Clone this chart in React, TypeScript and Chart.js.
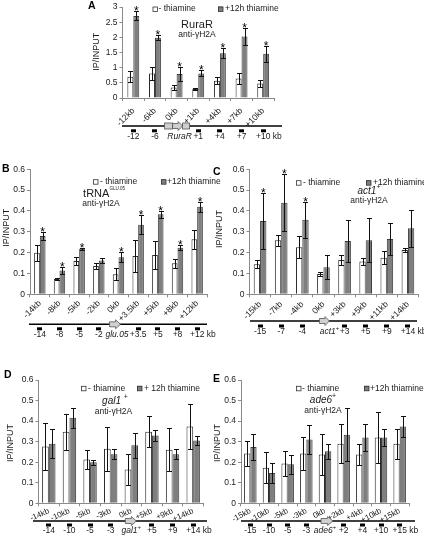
import React, { useEffect, useRef } from "react";
import { Chart, registerables } from "chart.js";
Chart.register(...registerables);

const FF = "'Liberation Sans', Arial, Helvetica, sans-serif";
Chart.defaults.font.family = FF;

// ---------- DATA ----------
// Panel A (RuraR)
const catsA = ["-12kb", "-6kb", "0kb", "+1kb", "+4kb", "+7kb", "+10kb"];
const noThiA = [0.70, 0.81, 0.35, 0.30, 0.57, 0.64, 0.48];
const noThiErrA = [0.18, 0.20, 0.08, 0.02, 0.12, 0.17, 0.13];
const thiA = [2.71, 1.99, 0.79, 0.81, 1.48, 2.03, 1.46];
const thiErrA = [0.15, 0.09, 0.24, 0.10, 0.17, 0.29, 0.27];
const sigA = [1, 1, 1, 1, 1, 1, 1];
const mapA = ["-12", "-6", "RuraR", "+1", "+4", "+7", "+10"];
const yTicksA = [0, 0.5, 1, 1.5, 2, 2.5, 3];

// Panel B (tRNA GLU.05)
const catsB = ["-14kb", "-8kb", "-5kb", "-2kb", "0kb", "+3.5kb", "+5kb", "+8kb", "+12kb"];
const noThiB = [0.200, 0.074, 0.160, 0.136, 0.096, 0.184, 0.189, 0.149, 0.264];
const noThiErrB = [0.038, 0.006, 0.018, 0.015, 0.028, 0.075, 0.066, 0.022, 0.045];
const thiB = [0.280, 0.114, 0.219, 0.162, 0.178, 0.334, 0.384, 0.224, 0.420];
const thiErrB = [0.020, 0.018, 0.005, 0.012, 0.025, 0.045, 0.018, 0.012, 0.025];
const sigB = [1, 1, 1, 0, 1, 1, 1, 1, 1];
const mapB = ["-14", "-8", "-5", "-2", "glu.05", "+3.5", "+5", "+8", "+12"];

// Panel C (act1+)
const catsC = ["-15kb", "-7kb", "-4kb", "0kb", "+3kb", "+5kb", "+11kb", "+14kb"];
const noThiC = [0.144, 0.260, 0.226, 0.098, 0.165, 0.157, 0.176, 0.213];
const noThiErrC = [0.020, 0.026, 0.053, 0.010, 0.023, 0.018, 0.030, 0.008];
const thiC = [0.352, 0.440, 0.358, 0.130, 0.256, 0.260, 0.266, 0.317];
const thiErrC = [0.136, 0.136, 0.087, 0.057, 0.100, 0.104, 0.078, 0.090];
const sigC = [1, 1, 1, 0, 0, 0, 0, 0];
const mapC = ["-15", "-7", "-4", "act1", "+3", "+5", "+9", "+14"];

// Panel D (gal1+)
const catsD = ["-14kb", "-10kb", "-5kb", "-3kb", "0kb", "+5kb", "+9kb", "+14kb"];
const noThiD = [0.277, 0.348, 0.213, 0.265, 0.165, 0.348, 0.261, 0.374];
const noThiErrD = [0.113, 0.087, 0.048, 0.108, 0.076, 0.075, 0.103, 0.108];
const thiD = [0.290, 0.416, 0.200, 0.239, 0.282, 0.330, 0.239, 0.306];
const thiErrD = [0.070, 0.048, 0.012, 0.024, 0.060, 0.028, 0.025, 0.022];
const sigD = [0, 0, 0, 0, 0, 0, 0, 0];
const mapD = ["-14", "-10", "-5", "-3", "gal1", "+5", "+9", "+14"];

// Panel E (ade6+)
const catsE = ["-15kb", "-10kb", "-5kb", "-3kb", "0kb", "+2kb", "+4kb", "+10kb", "+15kb"];
const noThiE = [0.242, 0.173, 0.194, 0.242, 0.237, 0.290, 0.237, 0.320, 0.290];
const noThiErrE = [0.060, 0.076, 0.060, 0.080, 0.100, 0.095, 0.050, 0.124, 0.073];
const thiE = [0.274, 0.148, 0.190, 0.310, 0.253, 0.334, 0.320, 0.320, 0.374];
const thiErrE = [0.065, 0.047, 0.047, 0.070, 0.037, 0.130, 0.066, 0.040, 0.050];
const sigE = [0, 0, 0, 0, 0, 0, 0, 0, 0];
const mapE = ["-15", "-10", "-5", "-3", "ade6", "+2", "+4", "+10", "+15"];

const yTicksSmall = [0, 0.1, 0.2, 0.3, 0.4, 0.5, 0.6];

// ---------- LAYOUT / STYLE ----------
type Part = { t: string; size: number; italic?: boolean; bold?: boolean; dy?: number };
type Cfg = {
  key: string;
  cats: string[]; noThi: number[]; noThiErr: number[]; thi: number[]; thiErr: number[]; sig: number[];
  mapLabels: string[]; geneIdx: number; geneSup: boolean; geneBoxes: boolean;
  yTicks: number[];
  cx: number; cy: number; cw: number; ch: number;
  L: number; R: number; T: number; B: number;
  catPct: number; rot: number; xPad: number; xFont: number;
  letter: string; letterX: number; letterY: number;
  yTitleX: number; yTitleY: number;
  legY: number; box1X: number; text1X: number; box2X: number; text2X: number; text2: string;
  title: Part[]; titleX: number; titleY: number; subX: number; subY: number;
  lineY: number; lineX0: number; lineX1: number; markY: number; mapLabY: number;
  g0: number; g1: number; gLabDx: number;
};

const DARK = "#1a1a1a";
const AXIS = "#8a8a8a";
const GRAY = "#7f7f7f";

const panels: Cfg[] = [
  {
    key: "A", cats: catsA, noThi: noThiA, noThiErr: noThiErrA, thi: thiA, thiErr: thiErrA, sig: sigA,
    mapLabels: mapA, geneIdx: 2, geneSup: false, geneBoxes: true, yTicks: yTicksA,
    cx: 0, cy: 0, cw: 424, ch: 145, L: 122.5, R: 274, T: 6, B: 98,
    catPct: 0.55, rot: 45, xPad: 5, xFont: 8.5,
    letter: "A", letterX: 88, letterY: 8.5, yTitleX: 97, yTitleY: 51.7,
    legY: 9, box1X: 152.5, text1X: 158.5, box2X: 218, text2X: 225, text2: "+12h thiamine",
    title: [{ t: "RuraR", size: 11 }], titleX: 197, titleY: 25, subX: 197, subY: 34.3,
    lineY: 126, lineX0: 122, lineX1: 282, markY: 129.3, mapLabY: 137,
    g0: -12, g1: 13, gLabDx: 3,
  },
  {
    key: "B", cats: catsB, noThi: noThiB, noThiErr: noThiErrB, thi: thiB, thiErr: thiErrB, sig: sigB,
    mapLabels: mapB, geneIdx: 4, geneSup: false, geneBoxes: false, yTicks: yTicksSmall,
    cx: 0, cy: 158, cw: 226, ch: 186, L: 30, R: 207, T: 169.3, B: 294.3,
    catPct: 0.58, rot: 45, xPad: 1, xFont: 8.5,
    letter: "B", letterX: 2, letterY: 172, yTitleX: 6.7, yTitleY: 227.7,
    legY: 181.7, box1X: 93, text1X: 100, box2X: 161, text2X: 167, text2: "+12h thiamine",
    title: [{ t: "tRNA", size: 11 }, { t: "GLU.05", size: 4.5, dy: -5 }], titleX: 104, titleY: 194, subX: 101, subY: 204,
    lineY: 324.3, lineX0: 29, lineX1: 207, markY: 327.3, mapLabY: 334.5,
    g0: -9, g1: 2, gLabDx: -1.5,
  },
  {
    key: "C", cats: catsC, noThi: noThiC, noThiErr: noThiErrC, thi: thiC, thiErr: thiErrC, sig: sigC,
    mapLabels: mapC, geneIdx: 3, geneSup: true, geneBoxes: false, yTicks: yTicksSmall,
    cx: 212, cy: 158, cw: 212, ch: 186, L: 249.5, R: 418.5, T: 169.3, B: 294.3,
    catPct: 0.6, rot: 45, xPad: 2, xFont: 8.5,
    letter: "C", letterX: 213, letterY: 175, yTitleX: 219.5, yTitleY: 229,
    legY: 182.7, box1X: 296, text1X: 303, box2X: 366, text2X: 373, text2: "+12h thiamine",
    title: [{ t: "act1", size: 10, italic: true }, { t: "+", size: 7, dy: -4 }], titleX: 369, titleY: 191, subX: 369, subY: 201,
    lineY: 321, lineX0: 250, lineX1: 417, markY: 324.5, mapLabY: 331.7,
    g0: -4, g1: 6, gLabDx: 6,
  },
  {
    key: "D", cats: catsD, noThi: noThiD, noThiErr: noThiErrD, thi: thiD, thiErr: thiErrD, sig: sigD,
    mapLabels: mapD, geneIdx: 4, geneSup: true, geneBoxes: false, yTicks: yTicksSmall,
    cx: 0, cy: 365, cw: 226, ch: 178, L: 38.5, R: 203.5, T: 380, B: 503.3,
    catPct: 0.65, rot: 24, xPad: 0, xFont: 8,
    letter: "D", letterX: 4, letterY: 378, yTitleX: 10.7, yTitleY: 443,
    legY: 388.3, box1X: 81, text1X: 88, box2X: 137, text2X: 144, text2: "+ 12h thiamine",
    title: [{ t: "gal1 ", size: 10, italic: true }, { t: "+", size: 7, dy: -4 }], titleX: 115, titleY: 401, subX: 113.5, subY: 412,
    lineY: 521, lineX0: 33, lineX1: 207, markY: 523.5, mapLabY: 530.7,
    g0: -6, g1: 5, gLabDx: 0,
  },
  {
    key: "E", cats: catsE, noThi: noThiE, noThiErr: noThiErrE, thi: thiE, thiErr: thiErrE, sig: sigE,
    mapLabels: mapE, geneIdx: 4, geneSup: true, geneBoxes: false, yTicks: yTicksSmall,
    cx: 212, cy: 365, cw: 212, ch: 178, L: 241, R: 409, T: 380, B: 503.3,
    catPct: 0.67, rot: 28, xPad: 0, xFont: 8,
    letter: "E", letterX: 213, letterY: 382, yTitleX: 217.5, yTitleY: 443,
    legY: 388.3, box1X: 296, text1X: 302, box2X: 364, text2X: 370, text2: "+12h thiamine",
    title: [{ t: "ade6", size: 10, italic: true }, { t: "+", size: 7, dy: -4 }], titleX: 323, titleY: 400.5, subX: 323, subY: 411,
    lineY: 521, lineX0: 241, lineX1: 415, markY: 523.5, mapLabY: 530.7,
    g0: -4, g1: 8, gLabDx: 0,
  },
];

const fnt = (p: Part) => `${p.italic ? "italic " : ""}${p.bold ? "bold " : ""}${p.size}px ${FF}`;

function drawRich(ctx: CanvasRenderingContext2D, parts: Part[], x: number, y: number, align: "left" | "center" | "right") {
  const widths = parts.map((p) => { ctx.font = fnt(p); return ctx.measureText(p.t).width; });
  const total = widths.reduce((a, b) => a + b, 0);
  let sx = align === "center" ? x - total / 2 : align === "right" ? x - total : x;
  ctx.textAlign = "left";
  ctx.textBaseline = "middle";
  parts.forEach((p, i) => {
    ctx.font = fnt(p);
    ctx.fillText(p.t, sx, y + (p.dy || 0));
    sx += widths[i];
  });
  return total;
}

function blockArrow(ctx: CanvasRenderingContext2D, x0: number, x1: number, yc: number) {
  const w = x1 - x0;
  const hx = x0 + w * 0.55;
  ctx.beginPath();
  ctx.moveTo(x0, yc - 2.5);
  ctx.lineTo(hx, yc - 2.5);
  ctx.lineTo(hx, yc - 4.5);
  ctx.lineTo(x1, yc);
  ctx.lineTo(hx, yc + 4.5);
  ctx.lineTo(hx, yc + 2.5);
  ctx.lineTo(x0, yc + 2.5);
  ctx.closePath();
  ctx.fillStyle = "#cfcfcf";
  ctx.fill();
  ctx.strokeStyle = "#555";
  ctx.lineWidth = 0.8;
  ctx.stroke();
}

function makePlugin(p: Cfg) {
  return {
    id: "decor" + p.key,
    afterDraw(chart: any) {
      const ctx: CanvasRenderingContext2D = chart.ctx;
      const ys = chart.scales.y;
      const xs = chart.scales.x;
      const ox = p.cx, oy = p.cy;
      ctx.save();
      ctx.fillStyle = DARK;

      // error bars + asterisks
      const sets: [number[], number[]][] = [[p.noThi, p.noThiErr], [p.thi, p.thiErr]];
      sets.forEach(([vals, errs], d) => {
        const meta = chart.getDatasetMeta(d);
        meta.data.forEach((bar: any, i: number) => {
          const x = Math.round(bar.x) + 0.5;
          const t = Math.round(ys.getPixelForValue(vals[i] + errs[i])) + 0.5;
          const b = Math.round(ys.getPixelForValue(Math.max(0, vals[i] - errs[i]))) + 0.5;
          ctx.strokeStyle = "#111";
          ctx.lineWidth = 1;
          ctx.beginPath();
          ctx.moveTo(x, t); ctx.lineTo(x, b);
          ctx.moveTo(x - 2.5, t); ctx.lineTo(x + 2.5, t);
          ctx.moveTo(x - 2.5, b); ctx.lineTo(x + 2.5, b);
          ctx.stroke();
          if (d === 1 && p.sig[i]) {
            ctx.font = `12px ${FF}`;
            ctx.textAlign = "center";
            ctx.textBaseline = "alphabetic";
            ctx.fillStyle = "#000";
            ctx.fillText("*", bar.x, t + 3.5);
          }
        });
      });

      // panel letter
      ctx.fillStyle = "#000";
      ctx.font = `bold 10.5px ${FF}`;
      ctx.textAlign = "left";
      ctx.textBaseline = "alphabetic";
      ctx.fillText(p.letter, p.letterX - ox, p.letterY - oy);

      // y title
      ctx.save();
      ctx.translate(p.yTitleX - ox, p.yTitleY - oy);
      ctx.rotate(-Math.PI / 2);
      ctx.font = `9px ${FF}`;
      ctx.textAlign = "center";
      ctx.textBaseline = "middle";
      ctx.fillStyle = DARK;
      ctx.fillText("IP/INPUT", 0, 0);
      ctx.restore();

      // legend
      const ly = p.legY - oy;
      ctx.lineWidth = 0.8;
      ctx.fillStyle = "#fff";
      ctx.strokeStyle = "#333";
      ctx.fillRect(p.box1X - ox, ly - 2.5, 5, 5);
      ctx.strokeRect(p.box1X - ox + 0.5, ly - 2, 4.5, 4.5);
      ctx.fillStyle = GRAY;
      ctx.fillRect(p.box2X - ox, ly - 2.5, 5, 5);
      ctx.strokeRect(p.box2X - ox + 0.5, ly - 2, 4.5, 4.5);
      ctx.fillStyle = DARK;
      drawRich(ctx, [{ t: "- thiamine", size: 8.5 }], p.text1X - ox, ly, "left");
      drawRich(ctx, [{ t: p.text2, size: 8.5 }], p.text2X - ox, ly, "left");

      // title and antibody
      drawRich(ctx, p.title, p.titleX - ox, p.titleY - oy, "center");
      drawRich(ctx, [{ t: "anti-γH2A", size: 8.5 }], p.subX - ox, p.subY - oy, "center");

      // gene map
      const lyM = p.lineY - oy;
      ctx.strokeStyle = "#000";
      ctx.lineWidth = 1.6;
      ctx.beginPath();
      ctx.moveTo(p.lineX0 - ox, lyM);
      ctx.lineTo(p.lineX1 - ox, lyM);
      ctx.stroke();
      const n = p.mapLabels.length;
      p.mapLabels.forEach((lab, i) => {
        const cxp = xs.getPixelForValue(i);
        if (i === p.geneIdx) {
          if (p.geneBoxes) {
            ctx.fillStyle = "#cfcfcf";
            ctx.strokeStyle = "#555";
            ctx.lineWidth = 0.8;
            ctx.fillRect(cxp + p.g0, lyM - 3, 8, 6);
            ctx.strokeRect(cxp + p.g0, lyM - 3, 8, 6);
            blockArrow(ctx, cxp + p.g0 + 8, cxp + p.g1 - 7, lyM);
            ctx.fillStyle = "#cfcfcf";
            ctx.fillRect(cxp + p.g1 - 7, lyM - 3, 7, 6);
            ctx.strokeRect(cxp + p.g1 - 7, lyM - 3, 7, 6);
          } else {
            blockArrow(ctx, cxp + p.g0, cxp + p.g1, lyM);
          }
          ctx.fillStyle = DARK;
          const parts: Part[] = [{ t: lab, size: 8.5, italic: true }];
          if (p.geneSup) parts.push({ t: "+", size: 6, dy: -3.5 });
          drawRich(ctx, parts, cxp + p.gLabDx, p.mapLabY - oy, "center");
        } else {
          ctx.fillStyle = "#000";
          ctx.fillRect(Math.round(cxp - 2.5), p.markY - oy, 5, 3);
          ctx.fillStyle = DARK;
          drawRich(ctx, [{ t: lab, size: 8.5 }], cxp, p.mapLabY - oy, "center");
          if (i === n - 1) {
            ctx.font = `8.5px ${FF}`;
            const w = ctx.measureText(lab).width;
            drawRich(ctx, [{ t: " kb", size: 8.5 }], cxp + w / 2, p.mapLabY - oy, "left");
          }
        }
      });
      ctx.restore();
    },
  };
}

function Panel({ p }: { p: Cfg }) {
  const ref = useRef<HTMLCanvasElement>(null);
  useEffect(() => {
    const chart = new Chart(ref.current as HTMLCanvasElement, {
      type: "bar",
      data: {
        labels: p.cats,
        datasets: [
          {
            label: "- thiamine", data: p.noThi, backgroundColor: "#ffffff", borderColor: "#2a2a2a",
            borderWidth: 1, categoryPercentage: p.catPct, barPercentage: 1,
          },
          {
            label: "+12h thiamine", data: p.thi, backgroundColor: GRAY, borderColor: "#3c3c3c",
            borderWidth: 1, categoryPercentage: p.catPct, barPercentage: 1,
          },
        ],
      },
      options: {
        animation: false,
        responsive: false,
        devicePixelRatio: 1,
        layout: { padding: { left: 0, top: p.T - p.cy, right: p.cx + p.cw - p.R, bottom: 0 } },
        plugins: { legend: { display: false }, tooltip: { enabled: false }, title: { display: false } },
        scales: {
          x: {
            grid: { offset: true, drawOnChartArea: false, drawTicks: true, tickLength: 3, color: AXIS },
            border: { color: AXIS, width: 1 },
            ticks: {
              minRotation: p.rot, maxRotation: p.rot, autoSkip: false, padding: p.xPad,
              font: { size: p.xFont, family: FF }, color: DARK,
            },
            afterFit: (s: any) => { s.height = p.cy + p.ch - p.B; },
          },
          y: {
            min: 0,
            max: p.yTicks[p.yTicks.length - 1],
            afterBuildTicks: (s: any) => { s.ticks = p.yTicks.map((v) => ({ value: v })); },
            ticks: {
              padding: 2, font: { size: 8.5, family: FF }, color: DARK,
              callback: (v: any) => String(Math.round(Number(v) * 100) / 100),
            },
            grid: { drawOnChartArea: false, drawTicks: true, tickLength: 3, color: AXIS },
            border: { color: AXIS, width: 1 },
            afterFit: (s: any) => { s.width = p.L - p.cx; },
          },
        },
      },
      plugins: [makePlugin(p)],
    } as any);
    return () => chart.destroy();
  }, []);
  return (
    <canvas
      ref={ref}
      width={p.cw}
      height={p.ch}
      style={{ position: "absolute", left: p.cx, top: p.cy, width: p.cw, height: p.ch }}
    />
  );
}

export default function App() {
  return (
    <div style={{ position: "fixed", left: 0, top: 0, width: 424, height: 543, background: "#fff", overflow: "hidden" }}>
      {panels.map((p) => <Panel key={p.key} p={p} />)}
    </div>
  );
}
